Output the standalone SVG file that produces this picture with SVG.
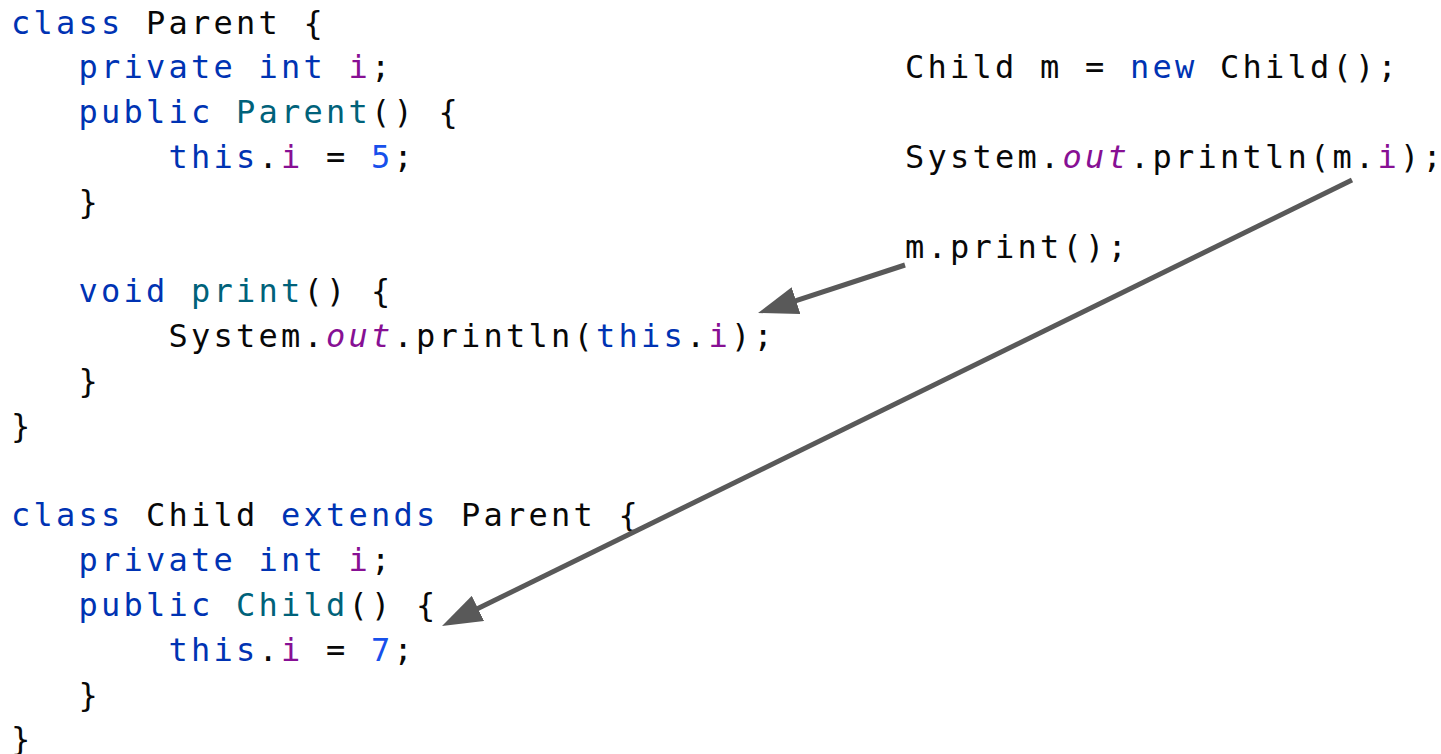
<svg xmlns="http://www.w3.org/2000/svg" width="1441" height="754" viewBox="0 0 1441 754">
<style>
text{font-family:"DejaVu Sans Mono","Liberation Mono",monospace;font-size:32px;letter-spacing:3.23px;fill:#080808;white-space:pre}
.k{fill:#0033b3}
.f{fill:#00627a}
.v{fill:#871094}
.n{fill:#1750eb}
.o{fill:#871094;font-style:italic}
.c{fill:none;stroke:#595959;stroke-width:5}
</style>
<defs>
<marker id="ah" viewBox="0 0 8 5.6" refX="4" refY="2.8" markerWidth="8" markerHeight="5.6" orient="auto" markerUnits="strokeWidth">
<path d="M0,0 L8,2.8 L0,5.6 Z" fill="#595959"/>
</marker>
</defs>
<rect width="1441" height="754" fill="#ffffff"/>
<g id="parent-class">
<text x="11" y="33.5"><tspan class="k">class</tspan> Parent {</text>
<text x="78.5" y="78.3"><tspan class="k">private int</tspan> <tspan class="v">i</tspan>;</text>
<text x="78.5" y="123.1"><tspan class="k">public</tspan> <tspan class="f">Parent</tspan>() {</text>
<text x="168.5" y="167.9"><tspan class="k">this</tspan>.<tspan class="v">i</tspan> = <tspan class="n">5</tspan>;</text>
<text x="78.5" y="212.7">}</text>
<text x="78.5" y="302.3"><tspan class="k">void</tspan> <tspan class="f">print</tspan>() {</text>
<text x="168.5" y="347.1">System.<tspan class="o">out</tspan>.println(<tspan class="k">this</tspan>.<tspan class="v">i</tspan>);</text>
<text x="78.5" y="391.9">}</text>
<text x="11" y="436.7">}</text>
</g>
<g id="child-class">
<text x="11" y="526.3"><tspan class="k">class</tspan> Child <tspan class="k">extends</tspan> Parent {</text>
<text x="78.5" y="571.1"><tspan class="k">private int</tspan> <tspan class="v">i</tspan>;</text>
<text x="78.5" y="615.9"><tspan class="k">public</tspan> <tspan class="f">Child</tspan>() {</text>
<text x="168.5" y="660.7"><tspan class="k">this</tspan>.<tspan class="v">i</tspan> = <tspan class="n">7</tspan>;</text>
<text x="78.5" y="705.5">}</text>
<text x="11" y="750.3">}</text>
</g>
<g id="main-code">
<text x="905" y="78.3">Child m = <tspan class="k">new</tspan> Child();</text>
<text x="905" y="167.9">System.<tspan class="o">out</tspan>.println(m.<tspan class="v">i</tspan>);</text>
<text x="905" y="257.5">m.print();</text>
</g>
<g id="connectors">
<path class="c" d="M905,265 L777,306.8" marker-end="url(#ah)"/>
<path class="c" d="M1352,180 L460,617.2" marker-end="url(#ah)"/>
</g>
</svg>
